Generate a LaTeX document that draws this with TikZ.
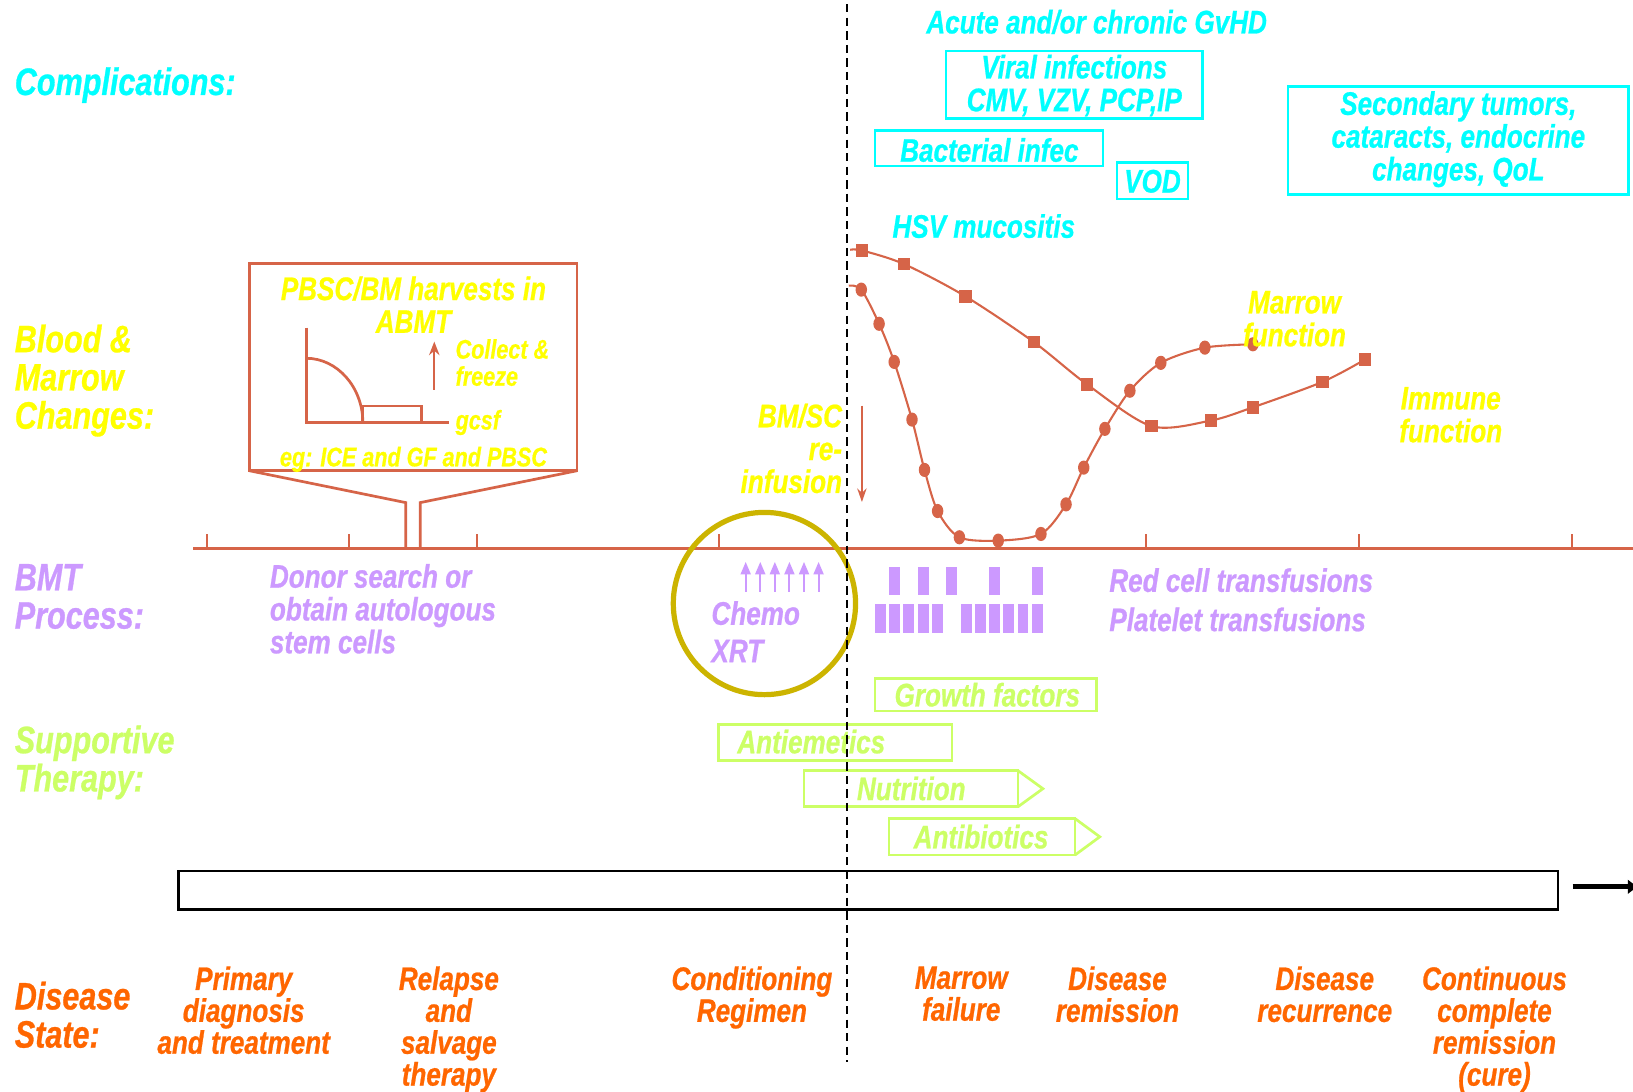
\documentclass[tikz,border=0pt]{standalone}
\usepackage{fontspec}
\setmainfont{Liberation Sans}[FakeStretch=0.8, BoldItalicFeatures={FakeBold=0.7}]
\usetikzlibrary{arrows.meta}
\definecolor{cy}{RGB}{0,255,255}
\definecolor{yl}{RGB}{255,255,0}
\definecolor{pu}{RGB}{204,153,255}
\definecolor{gr}{RGB}{204,255,102}
\definecolor{og}{RGB}{255,102,0}
\definecolor{rd}{RGB}{214,100,72}
\definecolor{ol}{RGB}{204,180,0}
\begin{document}
\begin{tikzpicture}[x=1pt,y=-1pt,
  lbl/.style={inner sep=0pt, font=\fontsize{31.3}{31.5}\selectfont\bfseries\itshape, align=center, anchor=north},
  hdr/.style={inner sep=0pt, font=\fontsize{36.7}{36.7}\selectfont\bfseries\itshape, align=left, anchor=north west},
  smalltxt/.style={inner sep=0pt, font=\fontsize{25.9}{26}\selectfont\bfseries\itshape, align=left, text=yl, anchor=north west},
  dis/.style={lbl, text=og, font=\fontsize{31.3}{30.6}\selectfont\bfseries\itshape},
  cboxshape/.style={draw=cy, line width=2.6, inner sep=0pt},
  gline/.style={draw=gr, line width=2.6},
  rline/.style={draw=rd, line width=2.6},
  curveline/.style={draw=rd, line width=2},
  sqmark/.style={fill=rd},
]
\fill[white] (0,0) rectangle (1568,1048);
\useasboundingbox (0,0) rectangle (1568,1048);

% ---------- row headers ----------
\node[hdr, text=cy] (hComp) at (14,64.4) {Complications:};
\node[hdr, text=yl] (hBlood) at (14,311.4) {Blood \&\\Marrow\\Changes:};
\node[hdr, text=pu] (hBMT) at (14,541.4) {BMT\\Process:};
\node[hdr, text=gr] (hSup) at (14,696.4) {Supportive\\Therapy:};
\node[hdr, text=og] (hDis) at (14,942.4) {Disease\\State:};

% ---------- complications ----------
\node[lbl, text=cy] (gvhd) at (1053,9.2) {Acute and/or chronic GvHD};
\node[cboxshape, minimum width=246.4, minimum height=64.6] (viralbox) at (1031.5,81.3) {};
\node[lbl, text=cy] (viral) at (1031.5,52.4) {Viral infections\\CMV, VZV, PCP,IP};
\node[cboxshape, minimum width=219, minimum height=34] (bactbox) at (949.6,142.4) {};
\node[lbl, text=cy] (bact) at (950,132.4) {Bacterial infec};
\node[cboxshape, minimum width=68.2, minimum height=35] (vodbox) at (1106.6,173.5) {};
\node[lbl, text=cy] (vod) at (1106.6,162.8) {VOD};
\node[cboxshape, minimum width=327, minimum height=104] (secbox) at (1400.3,135) {};
\node[lbl, text=cy] (sec) at (1400.3,87.4) {Secondary tumors,\\cataracts, endocrine\\changes, QoL};
\node[lbl, text=cy] (hsv) at (944.6,205.4) {HSV mucositis};

% ---------- axis ----------
\coordinate (axL) at (185.6,527);
\coordinate (axR) at (1572,527);
\draw[rline] (axL) -- (axR);
\foreach \x [count=\i] in {198.5,335,458.3,690,1100,1305,1509.5}{
  \coordinate (tA\i) at (\x,527);
  \coordinate (tB\i) at (\x,513);
  \draw[rline, line width=2] (tA\i) -- (tB\i);
}

% ---------- callout ----------
\coordinate (cbL) at (239.5,452);
\coordinate (cbR) at (554,452);
\coordinate (cmL) at (389.6,482.6);
\coordinate (cmR) at (403.5,482.6);
\coordinate (csL) at (389.6,527);
\coordinate (csR) at (403.5,527);
\draw[rline] (239.5,253) rectangle (554,452);
\draw[rline, line join=miter] (cbL) -- (cmL) -- (csL);
\draw[rline, line join=miter] (cbR) -- (cmR) -- (csR);
\node[lbl, text=yl] (pbsc) at (397,265.2) {PBSC/BM harvests in\\ABMT};
\coordinate (gTop) at (294,314.6);
\coordinate (gO) at (294,405.8);
\coordinate (gR) at (430.7,405.8);
\draw[rline] (gTop) -- (gO) -- (gR);
\draw[rline] (294,344) .. controls (323.8,344) and (348.4,371.8) .. (348.4,405.8);
\draw[rline] (348.4,389.8) rectangle (404.6,405.8);
\coordinate (colB) at (417,374.4);
\coordinate (colT) at (417,328);
\draw[rline, line width=2, -{Stealth[length=13,width=10]}] (colB) -- (colT);
\node[smalltxt] (collect) at (437.3,325.4) {Collect \&\\freeze};
\node[smalltxt] (gcsf) at (437.3,393.4) {gcsf};
\node[smalltxt, align=center, anchor=north] (eg) at (397,428.8) {eg: ICE and GF and PBSC};

% ---------- curves ----------
\draw[curveline] plot[smooth, tension=0.5] coordinates {(816.3,239.9) (827.6,240.5) (868.1,253.6) (926.9,284.5) (992.6,328.4) (1043.8,369.1) (1105.7,409.2) (1162.6,403.8) (1203.0,391.1) (1270.0,366.6) (1310.5,345.3)};
\foreach \p in {(827.6,240.5),(868.1,253.6),(926.9,284.5),(992.6,328.4),(1043.8,369.1),(1105.7,409.2),(1162.6,403.8),(1203.0,391.1),(1270.0,366.6),(1310.5,345.3)}{
  \fill[sqmark] \p +(-6,-6) rectangle +(6,6);
}
\draw[curveline] plot[smooth, tension=0.5] coordinates {(815,274.3) (827.0,278.1) (844.1,310.9) (858.6,347.5) (875.7,402.9) (887.7,451.2) (900.3,490.7) (921.2,515.9) (958.5,519.1) (999.5,512.7) (1023.6,484.3) (1040.6,449.0) (1060.9,411.8) (1084.9,375.2) (1114.6,348.4) (1156.9,333.8) (1203.0,330.6)};
\foreach \p in {(827.0,278.1),(844.1,310.9),(858.6,347.5),(875.7,402.9),(887.7,451.2),(900.3,490.7),(921.2,515.9),(958.5,519.1),(999.5,512.7),(1023.6,484.3),(1040.6,449.0),(1060.9,411.8),(1084.9,375.2),(1114.6,348.4),(1156.9,333.8),(1203.0,330.6)}{
  \fill[rd] \p ellipse [x radius=5.5, y radius=6.8];
}
\node[lbl, text=yl] (marrowf) at (1243,279.2) {Marrow\\function};
\node[lbl, text=yl] (immunef) at (1393,371.4) {Immune\\function};

% BM/SC reinfusion
\node[lbl, text=yl, align=right, anchor=north east] (bmsc) at (808.7,387.4) {BM/SC\\re-\\infusion};
\coordinate (rfT) at (827.6,389.5);
\coordinate (rfB) at (827.6,482);
\draw[draw=rd, line width=1.8, -{Stealth[length=13,width=9]}] (rfT) -- (rfB);

% ---------- BMT process ----------
\node[lbl, text=pu, align=left, anchor=north west] (donor) at (259,541.4) {Donor search or\\obtain autologous\\stem cells};
\foreach \x [count=\i] in {716,730,744,758,772,786}{
  \coordinate (chB\i) at (\x,568);
  \coordinate (chT\i) at (\x,539.5);
  \draw[draw=pu, line width=2, -{Triangle[length=12,width=9.5]}] (chB\i) -- (chT\i);
}
\node[lbl, text=pu, anchor=north west] (chemo) at (683,577) {Chemo};
\node[lbl, text=pu, anchor=north west] (xrt) at (683,614.1) {XRT};
\foreach \x in {853.5,881.4,908.3,949.6,990.9}{
  \fill[pu] (\x,544.7) rectangle ++(10.5,27);
}
\foreach \x in {840.1,853.5,867,881.4,894.8,922.7,936.1,949.6,963.5,977,990.9}{
  \fill[pu] (\x,580) rectangle ++(10.5,27.5);
}
\node[lbl, text=pu, anchor=north west] (rbc) at (1065,545.4) {Red cell transfusions};
\node[lbl, text=pu, anchor=north west] (plt) at (1065,583.1) {Platelet transfusions};

% conditioning circle
\draw[draw=ol, line width=5] (734,579.5) circle [radius=87.5];

% ---------- supportive therapy ----------
\node[draw=gr, line width=2.6, inner sep=0pt, minimum width=213, minimum height=31.1] (growthbox) at (946.6,667.2) {};
\node[lbl, text=gr] (growth) at (948,655.4) {Growth factors};
\draw[gline] (689.7,695.8) rectangle (914.2,729.9);
\node[lbl, text=gr] (antiem) at (779,700.4) {Antiemetics};
\draw[gline] (772,740) rectangle (977.5,774.6);
\draw[gline, line join=miter] (977.5,740) -- (1001.4,757.3) -- (977.5,774.6);
\node[lbl, text=gr] (nutr) at (875,745.4) {Nutrition};
\draw[gline] (853.5,786) rectangle (1032.2,821);
\draw[gline, line join=miter] (1032.2,786) -- (1056,803.5) -- (1032.2,821);
\node[lbl, text=gr] (antib) at (942,791.7) {Antibiotics};

% ---------- timeline bar ----------
\draw[black, line width=2.5] (171.5,836.5) rectangle (1496,873.5);
\coordinate (arA) at (1510,851.5);
\coordinate (arB) at (1572,851.5);
\draw[black, line width=4.5, -{Triangle[length=9pt,width=13pt]}] (arA) -- (arB);

% ---------- disease state ----------
\node[dis] (d1) at (234,927.7) {Primary\\diagnosis\\and treatment};
\node[dis] (d2) at (431,927.7) {Relapse\\and\\salvage\\therapy};
\node[dis] (d3) at (722,927.7) {Conditioning\\Regimen};
\node[dis] (d4) at (923,927.7) {Marrow\\failure};
\node[dis] (d5) at (1073,927.7) {Disease\\remission};
\node[dis] (d6) at (1272,927.7) {Disease\\recurrence};
\node[dis] (d7) at (1435,927.7) {Continuous\\complete\\remission\\(cure)};

% ---------- dashed divider ----------
\coordinate (dT) at (813,4);
\coordinate (dB) at (813,1020);
\draw[black, line width=2, dash pattern=on 8pt off 5pt] (dT) -- (dB);
\end{tikzpicture}
\end{document}
